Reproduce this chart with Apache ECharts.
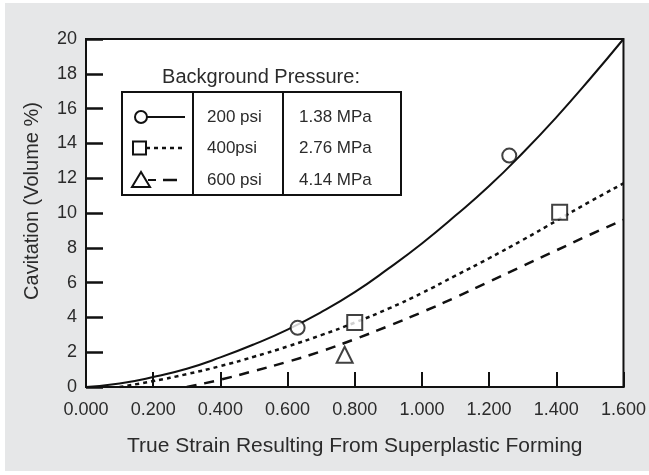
<!DOCTYPE html>
<html>
<head>
<meta charset="utf-8">
<script src="https://cdn.jsdelivr.net/npm/echarts@6/dist/echarts.min.js"></script>
<style>
html,body{margin:0;padding:0;background:#fff;}
#chart{width:649px;height:475px;}
</style>
</head>
<body>
<div id="chart"></div>
<script>
// ---- data ----
const solidX  = [0, 0.1, 0.2, 0.3, 0.4, 0.5, 0.6, 0.7, 0.8, 0.9, 1.0, 1.1, 1.2, 1.3, 1.4, 1.5, 1.6];
const solidY  = [0, 0.2, 0.57, 1.05, 1.7, 2.45, 3.3, 4.3, 5.45, 6.8, 8.25, 9.85, 11.55, 13.45, 15.5, 17.7, 20];
const dottedX = [0.1, 0.2, 0.3, 0.4, 0.5, 0.6, 0.7, 0.8, 0.9, 1.0, 1.1, 1.2, 1.3, 1.4, 1.5, 1.6];
const dottedY = [0, 0.34, 0.74, 1.2, 1.74, 2.33, 2.98, 3.7, 4.5, 5.4, 6.4, 7.4, 8.45, 9.55, 10.65, 11.7];
const dashedX = [0.3, 0.4, 0.5, 0.6, 0.7, 0.8, 0.9, 1.0, 1.1, 1.2, 1.3, 1.4, 1.5, 1.6];
const dashedY = [0, 0.42, 0.92, 1.45, 2.05, 2.75, 3.5, 4.3, 5.15, 6.05, 6.95, 7.85, 8.75, 9.6];
const psi200X = [0.63, 1.26];
const psi200Y = [3.4, 13.3];
const psi400X = [0.80, 1.41];
const psi400Y = [3.7, 10.05];
const psi600X = [0.77];
const psi600Y = [1.85];
const legendTitle = 'Background Pressure:';
const legendPsi = ['200 psi', '400psi', '600 psi'];
const legendMPa = ['1.38 MPa', '2.76 MPa', '4.14 MPa'];
const xTitle = 'True Strain Resulting From Superplastic Forming';
const yTitle = 'Cavitation (Volume %)';

const zip = (xs, ys) => xs.map((x, i) => [x, ys[i]]);
const FONT = 'Liberation Sans, Arial, Helvetica, sans-serif';
const TXT = '#2b2b2b';
const INK = '#111';

const chart = echarts.init(document.getElementById('chart'), null, {renderer: 'canvas'});

// legend table graphics
const rowsY = [117, 148, 180];
const g = [];
g.push({type: 'rect', z: -10, silent: true, shape: {x: 5, y: 3, width: 644, height: 468}, style: {fill: '#e6e7e8'}});
g.push({type: 'text', z: 10, style: {x: 261, y: 77, text: legendTitle, fill: TXT, font: '20px ' + FONT, textAlign: 'center', textVerticalAlign: 'middle'}});
g.push({type: 'rect', z: 10, shape: {x: 122, y: 92, width: 279, height: 103}, style: {fill: '#fff', stroke: INK, lineWidth: 2}});
g.push({type: 'line', z: 11, shape: {x1: 193, y1: 92, x2: 193, y2: 195}, style: {stroke: INK, lineWidth: 2}});
g.push({type: 'line', z: 11, shape: {x1: 283, y1: 92, x2: 283, y2: 195}, style: {stroke: INK, lineWidth: 2}});
// row symbols
g.push({type: 'line', z: 11, shape: {x1: 147, y1: rowsY[0], x2: 185, y2: rowsY[0]}, style: {stroke: INK, lineWidth: 2}});
g.push({type: 'circle', z: 12, shape: {cx: 141, cy: rowsY[0], r: 6}, style: {fill: '#fff', stroke: INK, lineWidth: 2}});
g.push({type: 'line', z: 11, shape: {x1: 146, y1: rowsY[1], x2: 186, y2: rowsY[1]}, style: {stroke: INK, lineWidth: 2.5, lineDash: [4, 4]}});
g.push({type: 'rect', z: 12, shape: {x: 133, y: rowsY[1] - 6.5, width: 13, height: 13}, style: {fill: '#fff', stroke: INK, lineWidth: 2}});
g.push({type: 'line', z: 11, shape: {x1: 148, y1: rowsY[2], x2: 156, y2: rowsY[2]}, style: {stroke: INK, lineWidth: 2}});
g.push({type: 'line', z: 11, shape: {x1: 163, y1: rowsY[2], x2: 177, y2: rowsY[2]}, style: {stroke: INK, lineWidth: 2.5}});
g.push({type: 'polygon', z: 12, shape: {points: [[141, rowsY[2] - 8], [132, rowsY[2] + 7], [150, rowsY[2] + 7]]}, style: {fill: '#fff', stroke: INK, lineWidth: 2}});
legendPsi.forEach((t, i) => g.push({type: 'text', z: 12, style: {x: 207, y: rowsY[i], text: t, fill: TXT, font: '17px ' + FONT, textAlign: 'left', textVerticalAlign: 'middle'}}));
legendMPa.forEach((t, i) => g.push({type: 'text', z: 12, style: {x: 299, y: rowsY[i], text: t, fill: TXT, font: '17px ' + FONT, textAlign: 'left', textVerticalAlign: 'middle'}}));

const markerStyle = {color: '#fff', borderColor: INK, borderWidth: 2};

chart.setOption({
  animation: false,
  backgroundColor: '#fff',
  textStyle: {fontFamily: FONT},
  graphic: g,
  grid: {show: true, left: 86, top: 39, right: 16, bottom: 88, backgroundColor: '#fff', borderColor: INK, borderWidth: 2, z: 0},
  xAxis: {
    type: 'value', min: 0, max: 1.6, interval: 0.2,
    name: xTitle, nameLocation: 'middle', nameGap: 49,
    nameTextStyle: {fontSize: 21, color: TXT, fontFamily: FONT},
    axisLine: {lineStyle: {color: INK, width: 2}},
    axisTick: {inside: true, length: 15, lineStyle: {color: INK, width: 2}},
    axisLabel: {formatter: v => v.toFixed(3), fontSize: 18, color: TXT, margin: 14, fontFamily: FONT},
    splitLine: {show: false}
  },
  yAxis: {
    type: 'value', min: 0, max: 20, interval: 2,
    name: yTitle, nameLocation: 'middle', nameGap: 44,
    nameTextStyle: {fontSize: 20, color: TXT, fontFamily: FONT, padding: [0, 0, 0, 24]},
    axisLine: {lineStyle: {color: INK, width: 2}},
    axisTick: {inside: true, length: 17, lineStyle: {color: INK, width: 2.5}},
    axisLabel: {fontSize: 18, color: TXT, margin: 9, fontFamily: FONT},
    splitLine: {show: false}
  },
  series: [
    {type: 'line', data: zip(solidX, solidY), smooth: 0.5, symbol: 'none', lineStyle: {color: INK, width: 2}, z: 3},
    {type: 'line', data: zip(dottedX, dottedY), smooth: 0.5, symbol: 'none', lineStyle: {color: INK, width: 2.5, type: [4, 4]}, z: 3},
    {type: 'line', data: zip(dashedX, dashedY), smooth: 0.5, symbol: 'none', lineStyle: {color: INK, width: 2.5, type: [10, 8]}, z: 3},
    {type: 'scatter', data: zip(psi200X, psi200Y), symbol: 'circle', symbolSize: 14, itemStyle: markerStyle, z: 4},
    {type: 'scatter', data: zip(psi400X, psi400Y), symbol: 'rect', symbolSize: 15, itemStyle: markerStyle, z: 4},
    {type: 'scatter', data: zip(psi600X, psi600Y), symbol: 'triangle', symbolSize: 16, itemStyle: markerStyle, z: 4}
  ]
});
</script>
</body>
</html>
